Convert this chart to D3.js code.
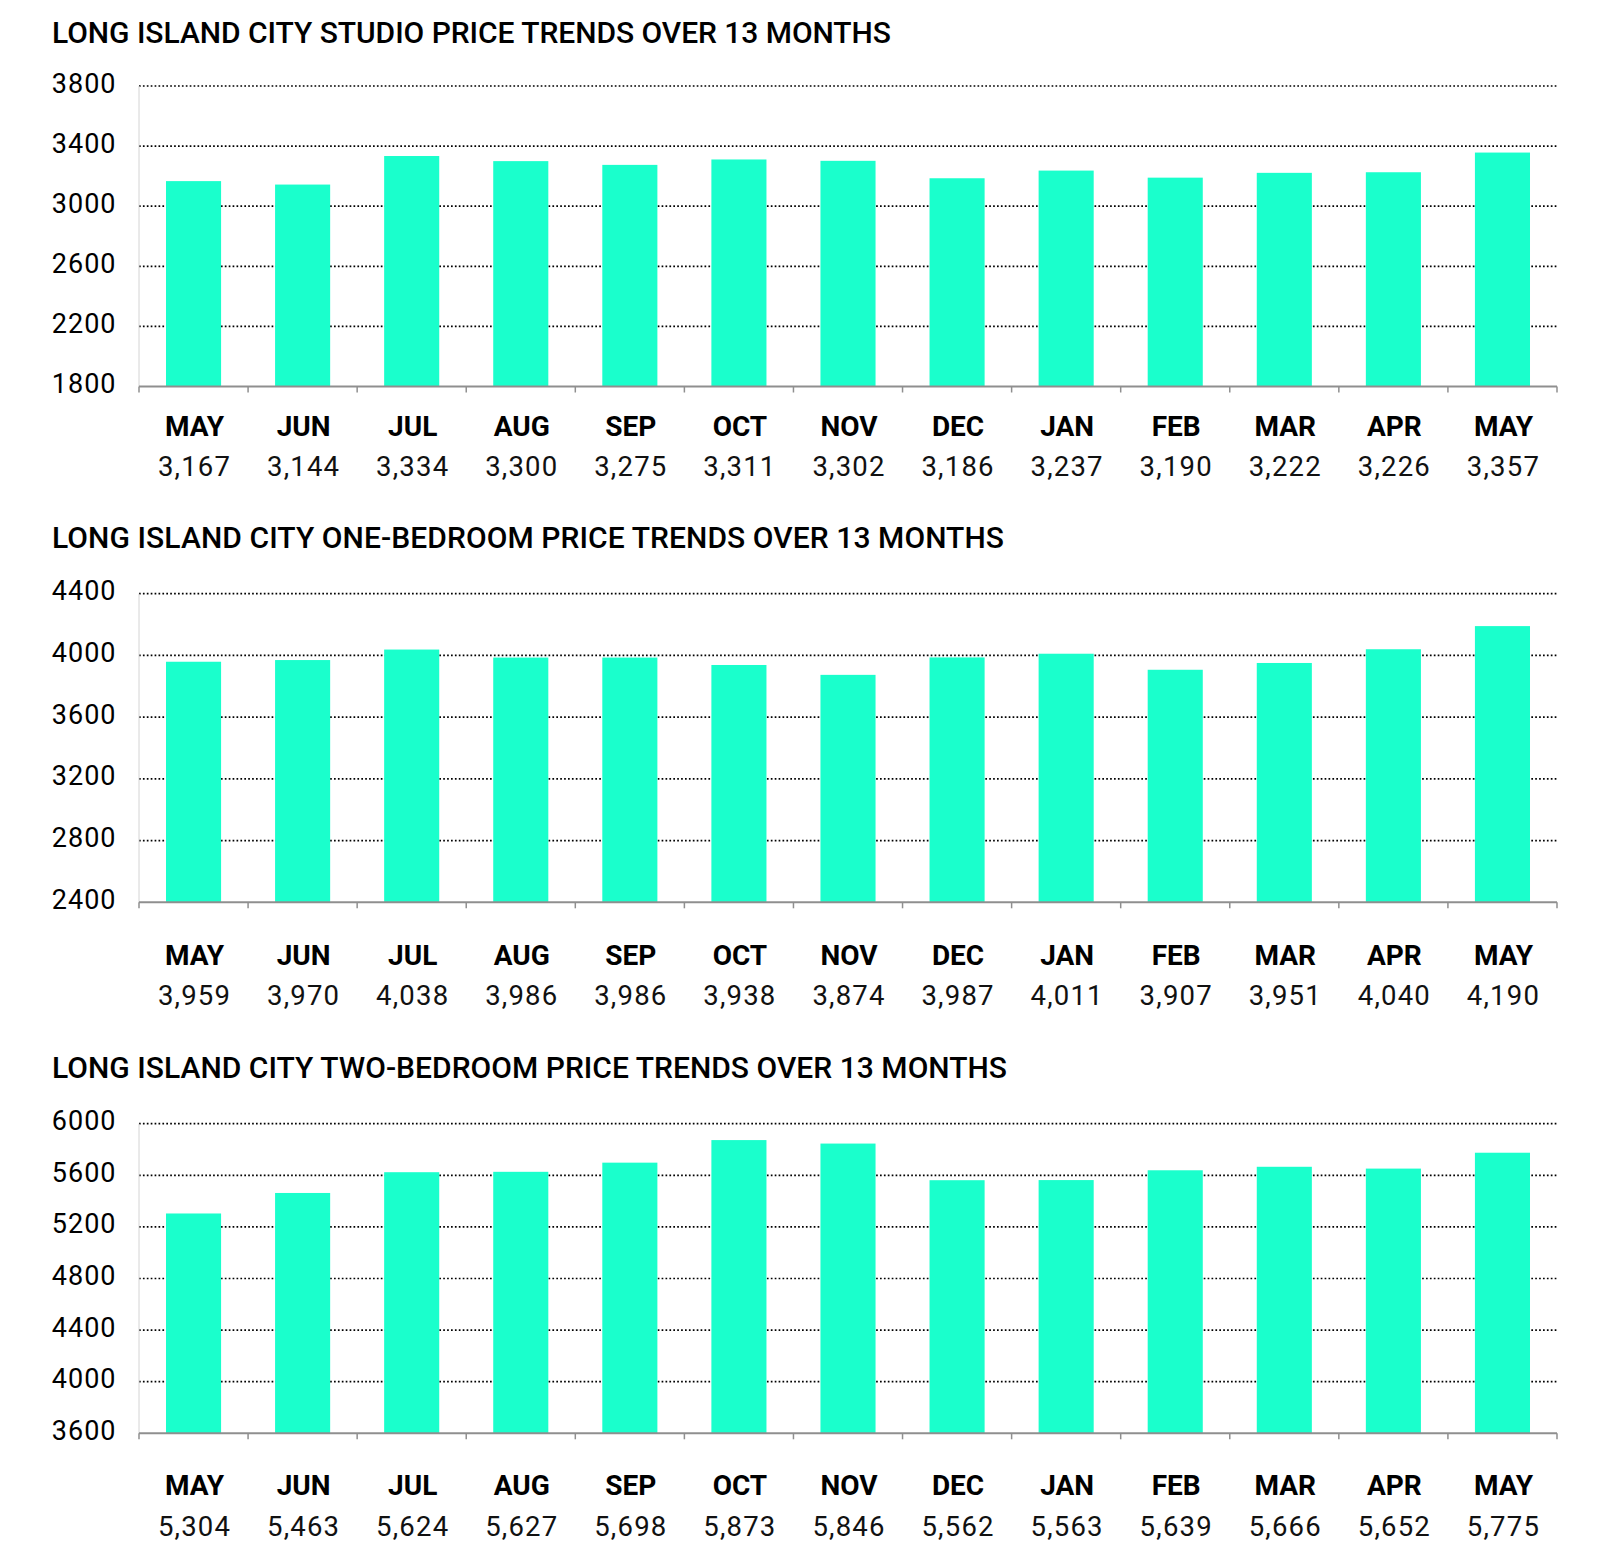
<!DOCTYPE html>
<html>
<head>
<meta charset="utf-8">
<script src="https://cdn.jsdelivr.net/npm/d3@7"></script>
<style>
  html, body { margin: 0; padding: 0; background: #fff; }
  svg { display: block; }
</style>
</head>
<body>
<svg id="chart" width="1600" height="1562"></svg>
<script>
// ---- DATA ----
const months = ["MAY","JUN","JUL","AUG","SEP","OCT","NOV","DEC","JAN","FEB","MAR","APR","MAY"];

const studioTitle = "LONG ISLAND CITY STUDIO PRICE TRENDS OVER 13 MONTHS";
const studioValues = [3167,3144,3334,3300,3275,3311,3302,3186,3237,3190,3222,3226,3357];
const studioTicks = [1800,2200,2600,3000,3400,3800];

const oneBedTitle = "LONG ISLAND CITY ONE-BEDROOM PRICE TRENDS OVER 13 MONTHS";
const oneBedValues = [3959,3970,4038,3986,3986,3938,3874,3987,4011,3907,3951,4040,4190];
const oneBedTicks = [2400,2800,3200,3600,4000,4400];

const twoBedTitle = "LONG ISLAND CITY TWO-BEDROOM PRICE TRENDS OVER 13 MONTHS";
const twoBedValues = [5304,5463,5624,5627,5698,5873,5846,5562,5563,5639,5666,5652,5775];
const twoBedTicks = [3600,4000,4400,4800,5200,5600,6000];

// ---- LAYOUT ----
const svg = d3.select("#chart");
svg.append("rect").attr("width",1600).attr("height",1562).attr("fill","#fff");

const X0 = 139, X1 = 1557;
const BAR = "#1affcc";

const panels = [
  {title: studioTitle, values: studioValues, ticks: studioTicks,
   titleY: 42.7, titleLen: 839, top: 86, bottom: 386.5, monthOff: 49, valueOff: 89},
  {title: oneBedTitle, values: oneBedValues, ticks: oneBedTicks,
   titleY: 548.3, titleLen: 952, top: 593.7, bottom: 902.3, monthOff: 63, valueOff: 103},
  {title: twoBedTitle, values: twoBedValues, ticks: twoBedTicks,
   titleY: 1078, titleLen: 955, top: 1123.7, bottom: 1433.3, monthOff: 62, valueOff: 103}
];

const fmt = d3.format(",");

panels.forEach(p => {
  const g = svg.append("g");
  const idx = d3.range(months.length);
  const x = d3.scaleBand().domain(idx).range([X0, X1]).paddingInner(0.495).paddingOuter(0.2475);
  const xb = d3.scaleBand().domain(idx).range([X0, X1]).padding(0);
  const y = d3.scaleLinear().domain(d3.extent(p.ticks)).range([p.bottom, p.top]);

  // title
  g.append("text")
    .attr("x", 52).attr("y", p.titleY)
    .attr("textLength", p.titleLen).attr("lengthAdjust", "spacing")
    .style("font-family", "Roboto, 'Noto Sans', sans-serif")
    .style("font-weight", 500).style("font-size", "30px").attr("fill", "#000")
    .text(p.title);

  // gridlines (dotted)
  g.append("g").selectAll("line")
    .data(p.ticks.slice(1))
    .join("line")
    .attr("x1", X0).attr("x2", X1)
    .attr("y1", d => y(d)).attr("y2", d => y(d))
    .attr("stroke", "#000").attr("stroke-width", 1.7)
    .attr("stroke-dasharray", "1.7,2.2");

  // left light axis line
  g.append("line")
    .attr("x1", X0).attr("x2", X0)
    .attr("y1", y(p.ticks[p.ticks.length-1])).attr("y2", p.bottom)
    .attr("stroke", "#d4d4d4").attr("stroke-width", 1);

  // y tick labels
  g.append("g").selectAll("text")
    .data(p.ticks)
    .join("text")
    .attr("x", 116.5).attr("y", d => y(d) + 6.5)
    .attr("text-anchor", "end")
    .style("font-family", "Roboto, 'Noto Sans', sans-serif")
    .style("font-size", "27px").style("letter-spacing", "1px")
    .attr("fill", "#000")
    .text(d => d);

  // bars
  g.append("g").selectAll("rect")
    .data(p.values)
    .join("rect")
    .attr("x", (d,i) => x(i))
    .attr("width", x.bandwidth())
    .attr("y", d => y(d))
    .attr("height", d => p.bottom - y(d))
    .attr("fill", BAR);

  // baseline axis
  g.append("line")
    .attr("x1", X0).attr("x2", X1)
    .attr("y1", p.bottom).attr("y2", p.bottom)
    .attr("stroke", "#8f8f8f").attr("stroke-width", 2);
  const bounds = idx.map(i => xb(i)).concat([X1]);
  g.append("g").selectAll("line")
    .data(bounds)
    .join("line")
    .attr("x1", d => d).attr("x2", d => d)
    .attr("y1", p.bottom).attr("y2", p.bottom + 6)
    .attr("stroke", "#8f8f8f").attr("stroke-width", 1.5);

  // month labels
  g.append("g").selectAll("text")
    .data(months)
    .join("text")
    .attr("x", (d,i) => xb(i) + xb.bandwidth()/2 + 1)
    .attr("y", p.bottom + p.monthOff)
    .attr("text-anchor", "middle")
    .style("font-family", "Roboto, 'Noto Sans', sans-serif")
    .style("font-weight", 700).style("font-size", "28px")
    .attr("fill", "#000")
    .text(d => d);

  // value labels
  g.append("g").selectAll("text")
    .data(p.values)
    .join("text")
    .attr("x", (d,i) => xb(i) + xb.bandwidth()/2 + 1)
    .attr("y", p.bottom + p.valueOff)
    .attr("text-anchor", "middle")
    .style("font-family", "Roboto, 'Noto Sans', sans-serif")
    .style("font-size", "27.5px").style("letter-spacing", "1.2px")
    .attr("fill", "#111")
    .text(d => fmt(d));
});
</script>
</body>
</html>
